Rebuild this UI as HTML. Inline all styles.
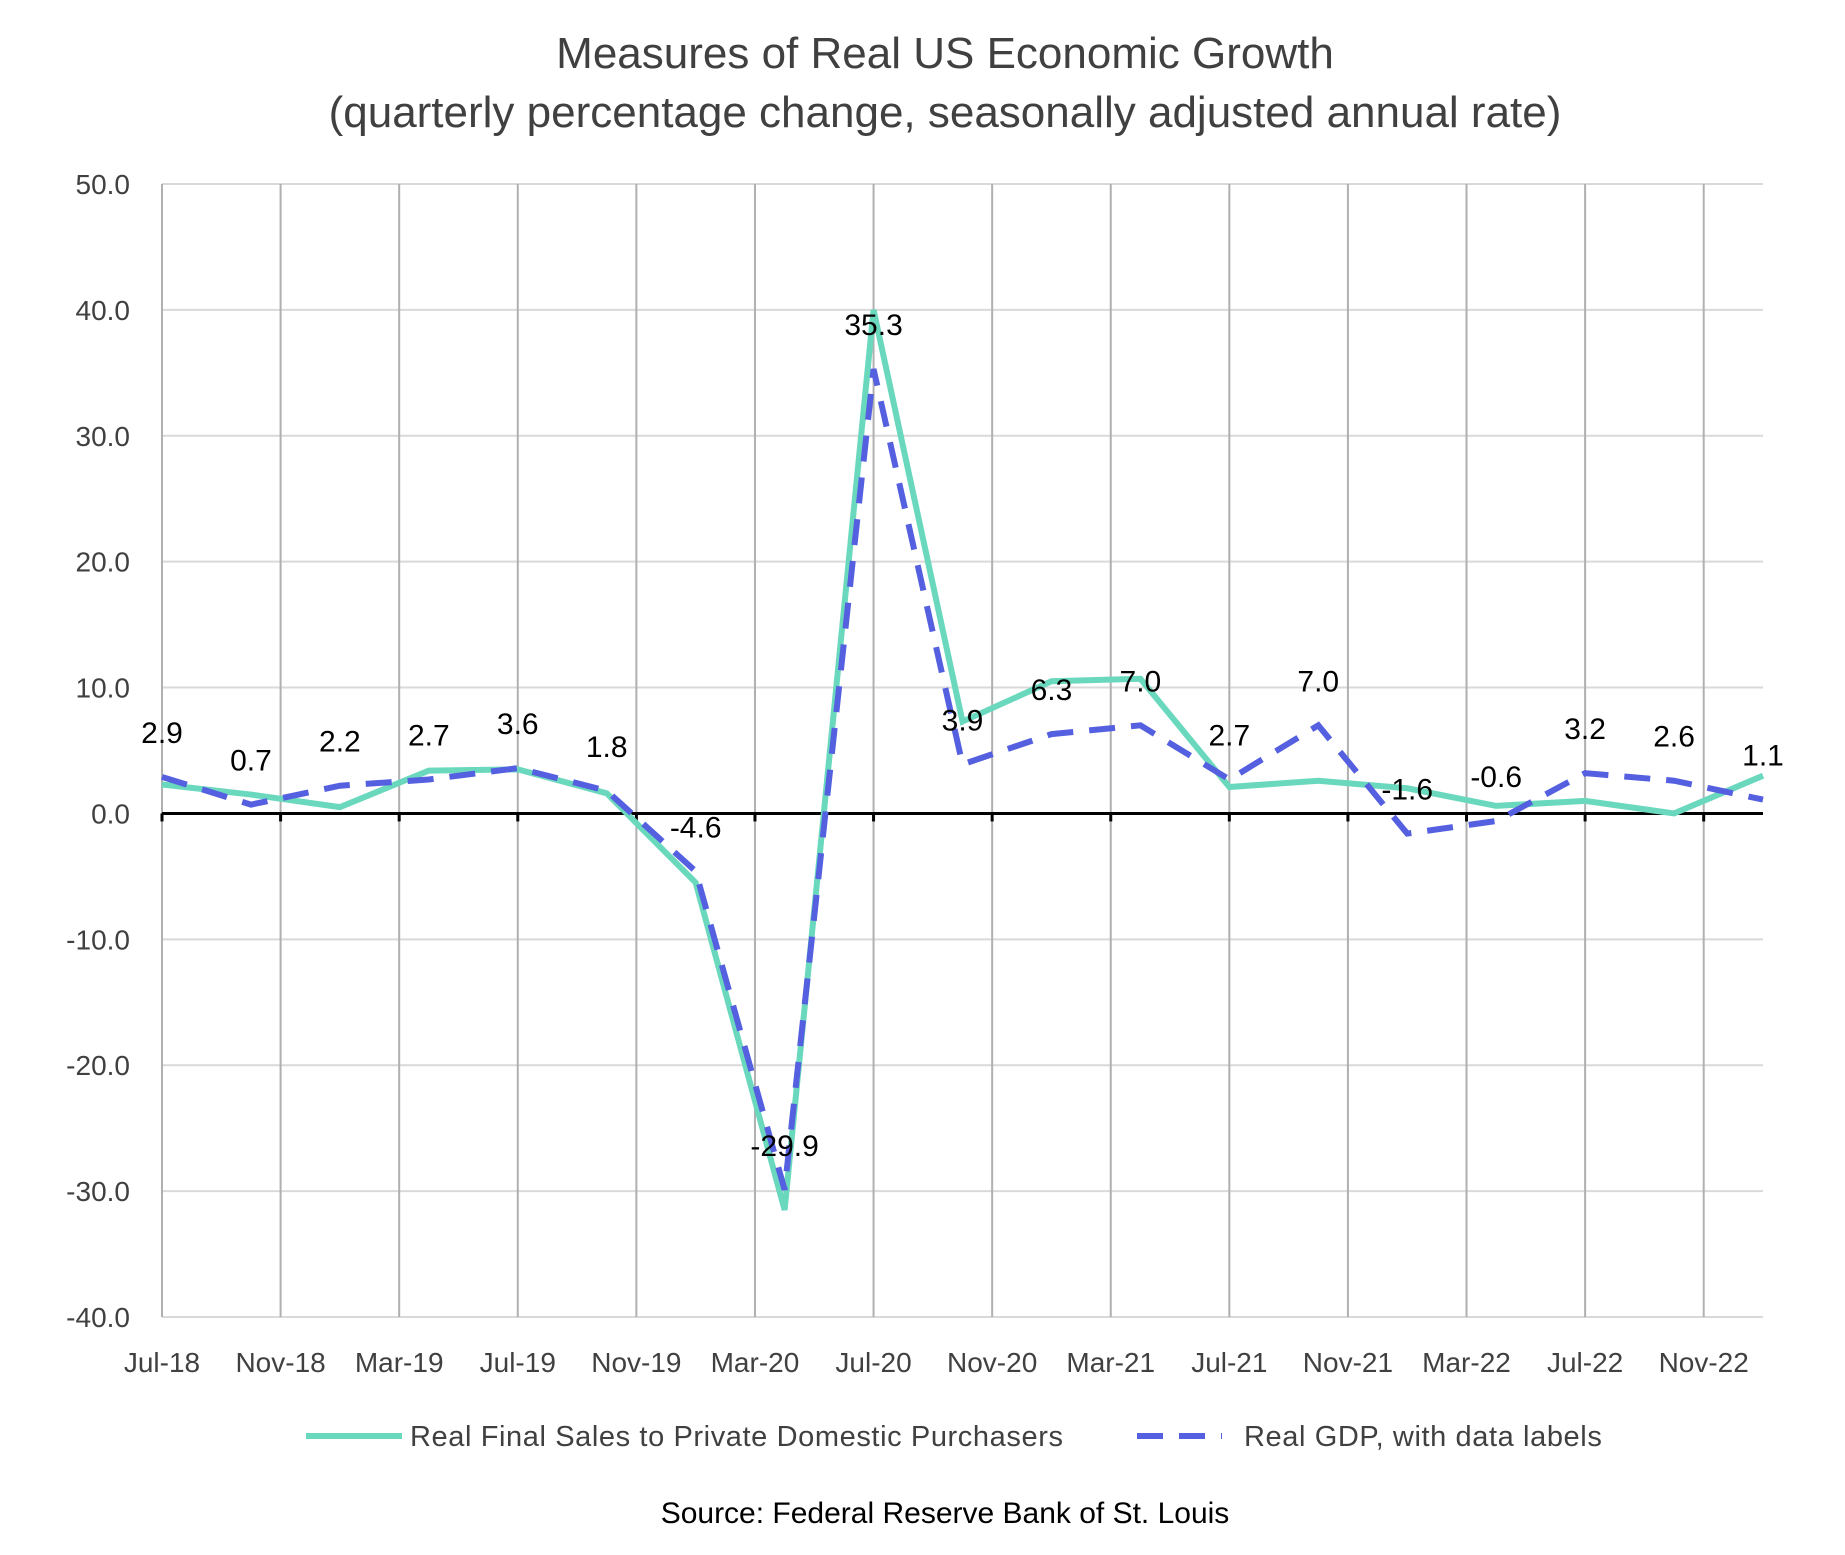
<!DOCTYPE html>
<html><head><meta charset="utf-8"><style>
body{margin:0;background:#fff;}
svg text{font-family:"Liberation Sans",sans-serif;}
</style></head><body>
<svg id="chart" width="1845" height="1550" viewBox="0 0 1845 1550">
<text x="945" y="68" text-anchor="middle" font-size="44" fill="#404040">Measures of Real US Economic Growth</text>
<text x="945" y="127" text-anchor="middle" font-size="44" fill="#404040">(quarterly percentage change, seasonally adjusted annual rate)</text>
<g id="grid"></g><g id="axes"></g><g id="series"></g><g id="labels"></g>
<g>
<line x1="306" y1="1436" x2="402" y2="1436" stroke="#6ad8bd" stroke-width="6"/>
<text x="410" y="1446" font-size="29" letter-spacing="0.6" fill="#404040">Real Final Sales to Private Domestic Purchasers</text>
<line x1="1137" y1="1436" x2="1222" y2="1436" stroke="#5560e0" stroke-width="6" stroke-dasharray="26 16"/>
<text x="1244" y="1446" font-size="29" letter-spacing="0.6" fill="#404040">Real GDP, with data labels</text>
</g>
<text x="945" y="1523" text-anchor="middle" font-size="30" fill="#000">Source: Federal Reserve Bank of St. Louis</text>
</svg>
<script>
const xTickLabels=["Jul-18","Nov-18","Mar-19","Jul-19","Nov-19","Mar-20","Jul-20","Nov-20","Mar-21","Jul-21","Nov-21","Mar-22","Jul-22","Nov-22"];
const yTicks=[50,40,30,20,10,0,-10,-20,-30,-40];
const gdpValues=[2.9,0.7,2.2,2.7,3.6,1.8,-4.6,-29.9,35.3,3.9,6.3,7.0,2.7,7.0,-1.6,-0.6,3.2,2.6,1.1];
const finalSalesValues=[2.3,1.5,0.5,3.4,3.5,1.6,-5.5,-31.5,40.0,7.3,10.5,10.7,2.1,2.6,2.0,0.6,1.0,0.0,3.0];
const L=162,R=1763,T=184,B=1317,yMax=50,yMin=-40,months=54;
const NS="http://www.w3.org/2000/svg";
function yS(v){return T+(yMax-v)/(yMax-yMin)*(B-T);}
function xMonth(m){return L+m/months*(R-L);}
function xQ(i){return xMonth(i*3);}
function mk(tag,attrs,parent){const e=document.createElementNS(NS,tag);for(const k in attrs)e.setAttribute(k,attrs[k]);parent.appendChild(e);return e;}
const grid=document.getElementById('grid'),axes=document.getElementById('axes'),series=document.getElementById('series'),labels=document.getElementById('labels');
yTicks.forEach(v=>{
 const y=yS(v);
 if(v!==0){const g=mk('line',{x1:L,x2:R,y1:y,y2:y,stroke:'#d9d9d9','stroke-width':2},grid);
 
 }
 const t=mk('text',{x:130,y:y+10,'text-anchor':'end','font-size':28,fill:'#404040'},axes);
 t.textContent=v.toFixed(1);
 
 
});
xTickLabels.forEach((s,i)=>{
 const x=xMonth(i*4);
 const g=mk('line',{x1:x,x2:x,y1:T,y2:B,stroke:'#b0b0b0','stroke-width':2},grid);
 
 
 const tk=mk('line',{x1:x,x2:x,y1:yS(0),y2:yS(0)+8,stroke:'#000','stroke-width':3},axes);
 
 
 const t=mk('text',{x:x,y:1372,'text-anchor':'middle','font-size':28,fill:'#404040'},axes);
 t.textContent=s;
 
 
});
const za=mk('line',{x1:L,x2:R,y1:yS(0),y2:yS(0),stroke:'#000','stroke-width':3},axes);


const pts1=finalSalesValues.map((v,i)=>xQ(i)+','+yS(v)).join(' ');
const p1=mk('polyline',{points:pts1,fill:'none',stroke:'#6ad8bd','stroke-width':6,'stroke-linejoin':'miter'},series);


const pts2=gdpValues.map((v,i)=>xQ(i)+','+yS(v)).join(' ');
const p2=mk('polyline',{points:pts2,fill:'none',stroke:'#5560e0','stroke-width':6,'stroke-dasharray':'26 16'},series);


gdpValues.forEach((v,i)=>{
 const t=mk('text',{x:xQ(i),y:yS(v)-34,'text-anchor':'middle','font-size':30,fill:'#000'},labels);
 t.textContent=v.toFixed(1);
 
 
});
</script>
</body></html>
